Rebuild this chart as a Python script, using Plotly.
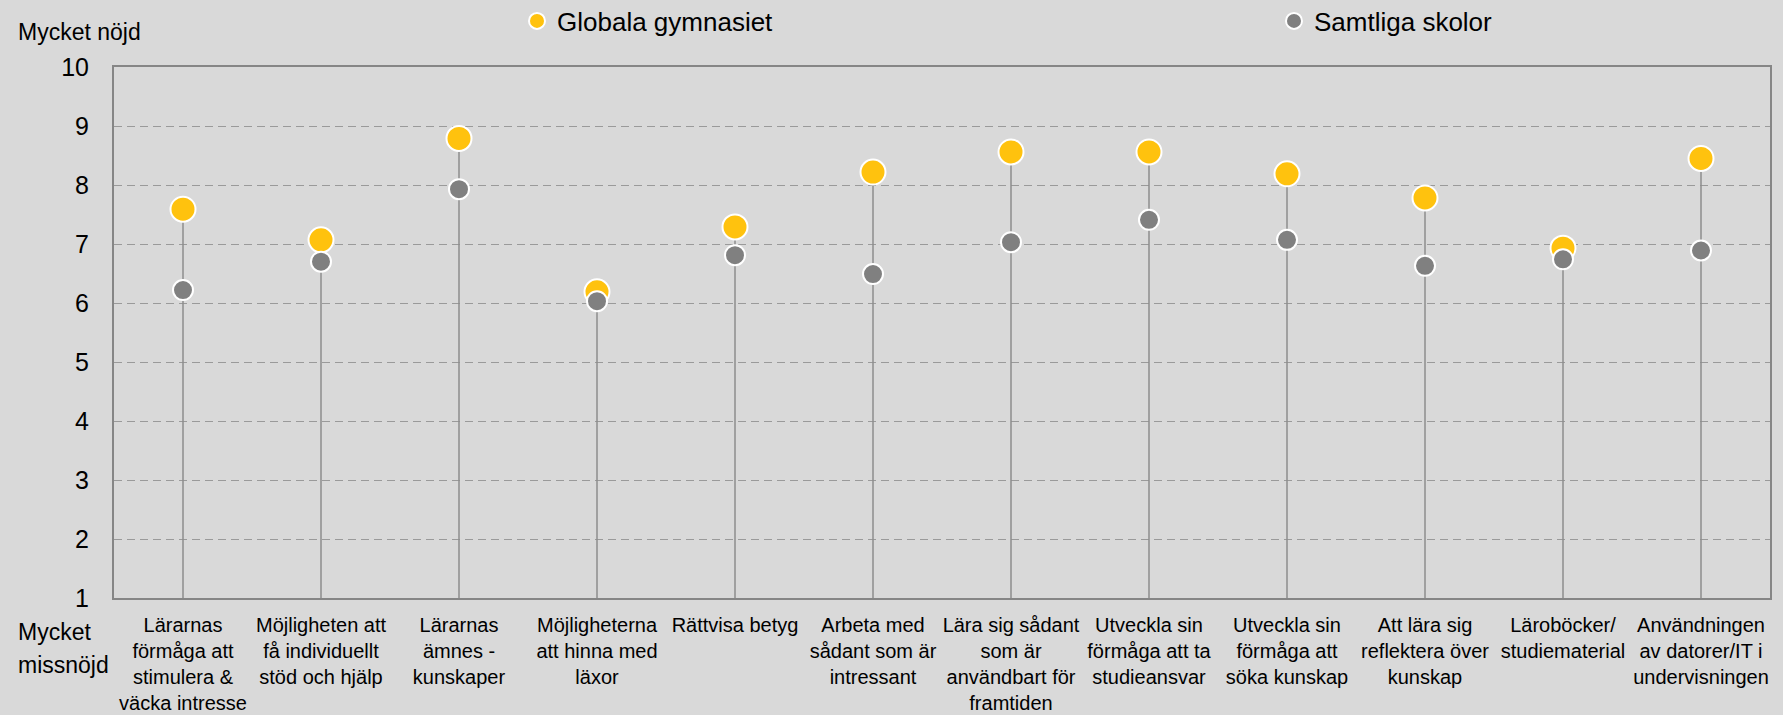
import plotly.graph_objects as go

# ---- data ----
categories = [
    "Lärarnas<br>förmåga att<br>stimulera &<br>väcka intresse",
    "Möjligheten att<br>få individuellt<br>stöd och hjälp",
    "Lärarnas<br>ämnes -<br>kunskaper",
    "Möjligheterna<br>att hinna med<br>läxor",
    "Rättvisa betyg",
    "Arbeta med<br>sådant som är<br>intressant",
    "Lära sig sådant<br>som är<br>användbart för<br>framtiden",
    "Utveckla sin<br>förmåga att ta<br>studieansvar",
    "Utveckla sin<br>förmåga att<br>söka kunskap",
    "Att lära sig<br>reflektera över<br>kunskap",
    "Läroböcker/<br>studiematerial",
    "Användningen<br>av datorer/IT i<br>undervisningen",
]
globala = [7.59, 7.07, 8.79, 6.19, 7.29, 8.22, 8.56, 8.56, 8.19, 7.78, 6.93, 8.45]
samtliga = [6.22, 6.70, 7.93, 6.03, 6.81, 6.49, 7.03, 7.41, 7.07, 6.63, 6.74, 6.89]
y_ticks = [1, 2, 3, 4, 5, 6, 7, 8, 9, 10]
series_names = ["Globala gymnasiet", "Samtliga skolor"]
y_top_label = "Mycket nöjd"
y_bottom_labels = ["Mycket", "missnöjd"]

# ---- layout constants ----
W, H = 1783, 715
ML, MR, MT, MB = 114, 13, 67, 117
PW, PH = W - ML - MR, H - MT - MB
BG = "#d9d9d9"
GOLD = "#FFC20E"
GREY = "#808080"
FONT = "Liberation Sans, Arial, sans-serif"
ymin, ymax = y_ticks[0], y_ticks[-1]

fig = go.Figure()

# stems from axis bottom up to the highest point of each category
sx, sy = [], []
for c, g, s in zip(categories, globala, samtliga):
    sx += [c, c, None]
    sy += [ymin, max(g, s), None]
fig.add_trace(go.Scatter(x=sx, y=sy, mode="lines", line=dict(color="#8c8c8c", width=1.5),
                         showlegend=False, hoverinfo="skip"))

fig.add_trace(go.Scatter(x=categories, y=globala, mode="markers", name=series_names[0],
                         marker=dict(color=GOLD, size=25, line=dict(color="white", width=2))))
fig.add_trace(go.Scatter(x=categories, y=samtliga, mode="markers", name=series_names[1],
                         marker=dict(color=GREY, size=20, line=dict(color="white", width=2))))

def px_to_paper_x(px):
    return (px - ML) / PW

def px_to_paper_y(py):
    return (H - MB - py) / PH

fig.add_annotation(text=y_top_label, xref="paper", yref="paper",
                   x=px_to_paper_x(16), y=px_to_paper_y(32), xanchor="left", yanchor="middle",
                   showarrow=False, font=dict(size=23, color="black", family=FONT))
for txt, py in zip(y_bottom_labels, [632, 665]):
    fig.add_annotation(text=txt, xref="paper", yref="paper",
                       x=px_to_paper_x(16), y=px_to_paper_y(py), xanchor="left", yanchor="middle",
                       showarrow=False, font=dict(size=23, color="black", family=FONT))

fig.update_layout(
    width=W, height=H,
    margin=dict(l=ML, r=MR, t=MT, b=MB, autoexpand=False),
    paper_bgcolor=BG, plot_bgcolor=BG,
    font=dict(family=FONT, color="black"),
    legend=dict(orientation="h", xref="container", yref="container",
                x=517 / W, y=1 - 21 / H, xanchor="left", yanchor="middle",
                entrywidthmode="pixels", entrywidth=712,
                font=dict(size=26, color="black"), bgcolor="rgba(0,0,0,0)",
                itemsizing="trace"),
    xaxis=dict(type="category", range=[-0.5, len(categories) - 0.5], automargin=False,
               showgrid=False, showline=True, linecolor="#868686", linewidth=2,
               mirror=True, ticks="", tickfont=dict(size=20, color="black"),
               ticklabelstandoff=8, zeroline=False, tickangle=0),
    yaxis=dict(range=[ymin, ymax], tickvals=y_ticks, automargin=False,
               showgrid=True, gridcolor="#9a9a9a",
               gridwidth=1, griddash="8px,5px", showline=True, linecolor="#868686", linewidth=2,
               mirror=True, ticks="", tickfont=dict(size=25, color="black"),
               ticklabelstandoff=18, zeroline=False),
)

fig.write_html("out.html", config={"displayModeBar": False},
               post_script="document.body.style.margin='0';document.body.style.background='%s';" % BG)
